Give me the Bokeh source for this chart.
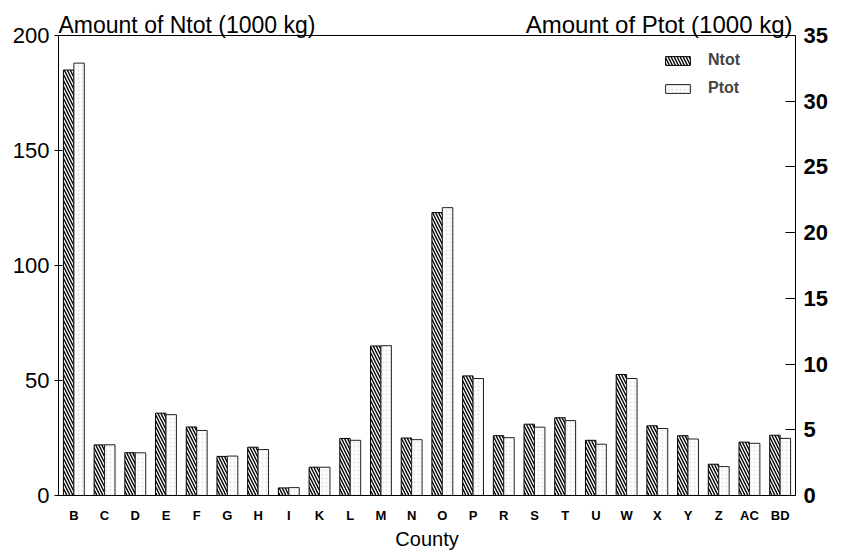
from bokeh.plotting import figure
from bokeh.models import (ColumnDataSource, FactorRange, Range1d, LinearAxis,
                          FixedTicker, Label, Legend, LegendItem, Span)
from bokeh.transform import dodge
from bokeh.embed import file_html
from bokeh.resources import INLINE

counties = ["B", "C", "D", "E", "F", "G", "H", "I", "K", "L", "M", "N", "O",
            "P", "R", "S", "T", "U", "W", "X", "Y", "Z", "AC", "BD"]
ntot = [185, 22, 18.6, 35.8, 29.8, 17, 21, 3.3, 12.3, 24.8, 65, 25, 123,
        52, 26, 31, 33.8, 24, 52.6, 30.3, 26, 13.6, 23.2, 26.2]
ptot = [32.9, 3.86, 3.25, 6.15, 4.95, 3.0, 3.5, 0.6, 2.15, 4.2, 11.4, 4.25,
        21.9, 8.9, 4.4, 5.2, 5.7, 3.9, 8.9, 5.1, 4.3, 2.2, 3.97, 4.35]
left_ticks = [0, 50, 100, 150, 200]
right_ticks = [0, 5, 10, 15, 20, 25, 30, 35]
left_title = "Amount of Ntot (1000 kg)"
right_title = "Amount of Ptot (1000 kg)"

FONT = "Liberation Sans"

# layout (pixels)
FRAME_W = 737
FRAME_H = 495          # frame reaches the top of the canvas; box top drawn at y=200
BOX_H = 460            # height of the drawn box (0..200)
L_MAX = left_ticks[-1]
R_MAX = right_ticks[-1]

src = ColumnDataSource(dict(county=counties, ntot=ntot, ptot=ptot))

p = figure(x_range=FactorRange(*counties, range_padding=0),
           y_range=Range1d(0, L_MAX * FRAME_H / BOX_H),
           frame_width=FRAME_W, frame_height=FRAME_H,
           output_backend="svg", toolbar_location=None,
           min_border_left=58, min_border_right=40,
           min_border_top=0, min_border_bottom=52,
           background_fill_color="white", border_fill_color="white")
p.extra_y_ranges = {"ptot": Range1d(0, R_MAX * FRAME_H / BOX_H)}

r1 = p.vbar(x=dodge("county", -0.17, range=p.x_range), top="ntot", width=0.34,
            source=src, fill_color="white", line_color="black", line_width=1,
            hatch_pattern="\\", hatch_color="black", hatch_scale=6,
            hatch_weight=1.4)
r2 = p.vbar(x=dodge("county", 0.17, range=p.x_range), top="ptot", width=0.34,
            source=src, y_range_name="ptot", fill_color="#fdfdfd",
            line_color="#222222", line_width=1,
            hatch_pattern="dot", hatch_color="#e2e2e2", hatch_scale=4,
            hatch_weight=1)

p.xgrid.grid_line_color = None
p.ygrid.grid_line_color = None
p.outline_line_color = None

# top edge of the box
p.add_layout(Span(location=L_MAX, dimension="width", line_color="black",
                  line_width=1))

ya = p.yaxis[0]
ya.ticker = FixedTicker(ticks=left_ticks)
ya.bounds = (0, L_MAX)
ya.major_label_text_font = FONT
ya.major_label_text_font_size = "22px"
ya.major_label_text_color = "black"
ya.minor_tick_line_color = None
ya.major_tick_in = 4
ya.major_tick_out = 4
ya.major_label_standoff = 5
ya.axis_line_color = "black"

ra = LinearAxis(y_range_name="ptot", ticker=FixedTicker(ticks=right_ticks))
ra.bounds = (0, R_MAX)
ra.major_label_text_font = FONT
ra.major_label_text_font_size = "22px"
ra.major_label_text_font_style = "bold"
ra.major_label_text_color = "black"
ra.minor_tick_line_color = None
ra.major_tick_in = 10
ra.major_tick_out = 0
ra.major_label_standoff = 8
ra.axis_line_color = "black"
p.add_layout(ra, "right")

xa = p.xaxis[0]
xa.major_tick_line_color = None
xa.major_tick_out = 0
xa.major_tick_in = 0
xa.major_label_standoff = 12
xa.major_label_text_font = FONT
xa.major_label_text_font_size = "13px"
xa.major_label_text_font_style = "bold"
xa.major_label_text_color = "black"
xa.axis_label = "County"
xa.axis_label_text_font = FONT
xa.axis_label_text_font_size = "20px"
xa.axis_label_text_font_style = "normal"
xa.axis_label_text_color = "black"
xa.axis_label_standoff = 2
xa.axis_line_color = "black"

p.add_layout(Label(x=0, y=471, x_units="screen", y_units="screen",
                   text=left_title, text_font=FONT,
                   text_font_size="23px", text_color="black",
                   text_align="left", text_baseline="alphabetic"))
p.add_layout(Label(x=734, y=471, x_units="screen", y_units="screen",
                   text=right_title, text_font=FONT,
                   text_font_size="24px", text_color="black",
                   text_align="right", text_baseline="alphabetic"))

legend = Legend(items=[LegendItem(label="Ntot", renderers=[r1]),
                       LegendItem(label="Ptot", renderers=[r2])],
                location=(604, 397), orientation="vertical",
                glyph_width=31, glyph_height=11, label_height=20,
                spacing=8, padding=0, margin=0,
                label_text_font=FONT, label_text_font_size="16px",
                label_text_font_style="bold", label_standoff=15,
                border_line_alpha=0, background_fill_alpha=0)
p.add_layout(legend)

open("out.html", "w").write(file_html(p, INLINE))
